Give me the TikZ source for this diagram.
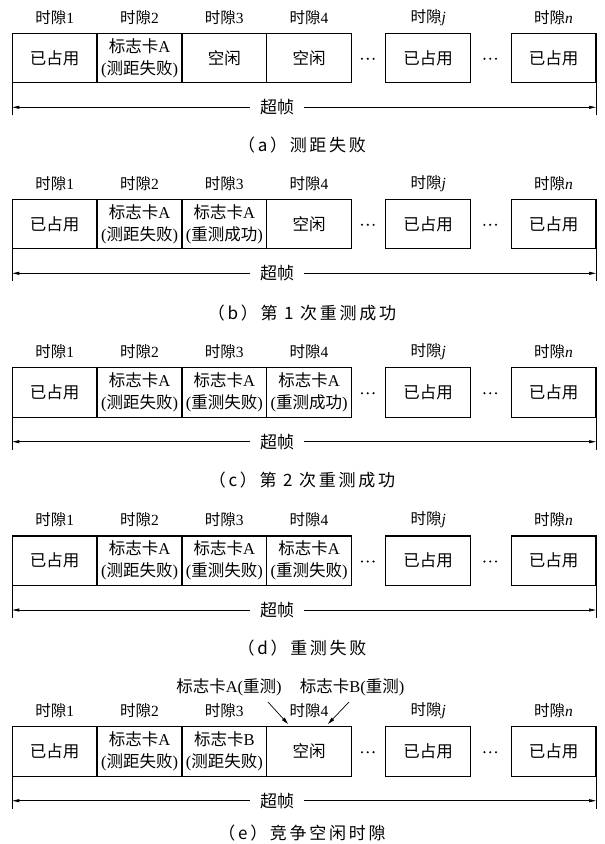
\documentclass[tikz,border=0pt]{standalone}
\usepackage{fontspec}
\setmainfont{Liberation Serif}
\newfontfamily\cjk{Noto Sans CJK SC}
\newfontfamily\cjkcap{Noto Sans CJK SC}[LetterSpace=16]
\newcommand\zhs[1]{{\cjk #1}}
\newcommand\zhcap[1]{{\cjkcap #1}}
\usetikzlibrary{arrows.meta}
\tikzset{
  slot/.style={draw, line width=1.3pt, minimum width=84.8pt, minimum height=49.5pt,
    inner sep=0pt, outer sep=0pt, align=center, font=\fontsize{16.5}{22}\selectfont},
  lab/.style={inner sep=0pt, font=\fontsize{15.5}{18}\selectfont},
  dotsn/.style={inner sep=0pt, minimum width=14pt, minimum height=4pt,
    path picture={\foreach \i in {-5.8,0,5.8}
      \fill (path picture bounding box.center) ++(\i pt,0pt) circle (1.15pt);}},
  fine/.style={line width=0.7pt},
  dim/.style={fine, -{Triangle[length=7pt,width=3pt]}},
  sf/.style={inner sep=0pt, minimum width=54pt, font=\fontsize{17}{18}\selectfont},
  captext/.style={inner sep=0pt, font=\fontsize{17}{18}\selectfont},
  anno/.style={inner sep=0pt, font=\fontsize{16.5}{18}\selectfont},
  pointer/.style={fine, -{Triangle[length=7pt,width=3.5pt]}},
}
\newcommand\slotpanel[7]{%
  \node[slot] (#1s1) at (54.7,{#2+24.75}) {\zhs{已占用}};
  \node[slot] (#1s2) at (139.5,{#2+24.75}) {#3};
  \node[slot] (#1s3) at (224.3,{#2+24.75}) {#4};
  \node[slot] (#1s4) at (309.1,{#2+24.75}) {#5};
  \node[slot] (#1sj) at (428.2,{#2+24.75}) {\zhs{已占用}};
  \node[slot] (#1sn) at (553.6,{#2+24.75}) {\zhs{已占用}};
  \node[dotsn] (#1d1) at (367.8,{#2+25.5}) {};
  \node[dotsn] (#1d2) at (490.2,{#2+25.5}) {};
  \node[lab] (#1l1) at (54.7,{#2-16}) {\zhs{时隙}1};
  \node[lab] (#1l2) at (139.5,{#2-16}) {\zhs{时隙}2};
  \node[lab] (#1l3) at (224.3,{#2-16}) {\zhs{时隙}3};
  \node[lab] (#1l4) at (309.1,{#2-16}) {\zhs{时隙}4};
  \node[lab] (#1lj) at (428.2,{#2-16}) {\zhs{时隙}\textit{j}};
  \node[lab] (#1ln) at (553.6,{#2-16}) {\zhs{时隙}\textit{n}};
  \coordinate (#1L) at (12.3,{#2+82});
  \coordinate (#1R) at (596,{#2+82});
  \draw[fine] (#1s1.south west) -- (#1L);
  \draw[fine] (#1sn.south east) -- (#1R);
  \node[sf] (#1sf) at (277,{#2+74}) {\zhs{超帧}};
  \draw[dim] (#1sf.west) -- (#1L |- #1sf);
  \draw[dim] (#1sf.east) -- (#1R |- #1sf);
  \node[captext] (#1cap) at (302,#7) {#6};
}
\begin{document}
\begin{tikzpicture}[x=1pt,y=-1pt]
\useasboundingbox[fill=white] (0,0) rectangle (605,844);
\slotpanel{a}{33.3}{\zhs{标志卡}A\\(\zhs{测距失败})}{\zhs{空闲}}{\zhs{空闲}}{\zhcap{（a）测距失败}}{145}
\slotpanel{b}{199.3}{\zhs{标志卡}A\\(\zhs{测距失败})}{\zhs{标志卡}A\\(\zhs{重测成功})}{\zhs{空闲}}{\zhcap{（b）第 1 次重测成功}}{313}
\slotpanel{c}{367.7}{\zhs{标志卡}A\\(\zhs{测距失败})}{\zhs{标志卡}A\\(\zhs{重测失败})}{\zhs{标志卡}A\\(\zhs{重测成功})}{\zhcap{（c）第 2 次重测成功}}{480}
\slotpanel{d}{536}{\zhs{标志卡}A\\(\zhs{测距失败})}{\zhs{标志卡}A\\(\zhs{重测失败})}{\zhs{标志卡}A\\(\zhs{重测失败})}{\zhcap{（d）重测失败}}{648}
\slotpanel{e}{726.7}{\zhs{标志卡}A\\(\zhs{测距失败})}{\zhs{标志卡}B\\(\zhs{测距失败})}{\zhs{空闲}}{\zhcap{（e）竞争空闲时隙}}{833}
\node[anno] (annA) at (229,687) {\zhs{标志卡}A(\zhs{重测})};
\node[anno] (annB) at (352,687) {\zhs{标志卡}B(\zhs{重测})};
\coordinate (pA) at (268,702);
\coordinate (pB) at (349,702);
\coordinate (tA) at (288,724);
\coordinate (tB) at (328,724);
\draw[pointer] (pA) -- (tA);
\draw[pointer] (pB) -- (tB);
\end{tikzpicture}
\end{document}
